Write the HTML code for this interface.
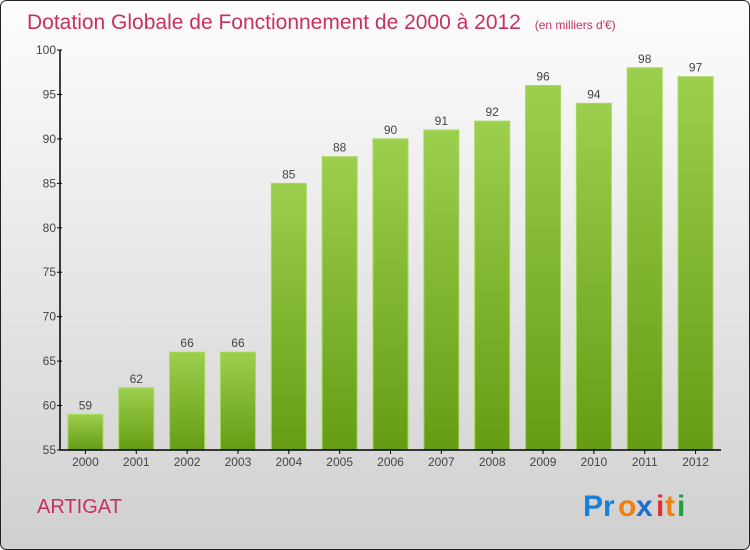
<!DOCTYPE html>
<html><head><meta charset="utf-8"><style>
body{margin:0;}
svg{display:block;font-family:"Liberation Sans",sans-serif;}
</style></head><body>
<svg width="750" height="550" viewBox="0 0 750 550">
<defs>
<linearGradient id="bg" x1="0" y1="0" x2="0" y2="1"><stop offset="0" stop-color="#fdfdfd"/><stop offset="1" stop-color="#d0d0d0"/></linearGradient>
<linearGradient id="bar" x1="0" y1="0" x2="0" y2="1"><stop offset="0" stop-color="#9ccf4d"/><stop offset="1" stop-color="#669c14"/></linearGradient>
</defs>
<rect x="0.5" y="0.5" width="749" height="549" rx="6" fill="url(#bg)" stroke="#222"/>
<text x="27" y="29" font-size="21" fill="#c8305f">Dotation Globale de Fonctionnement de 2000 à 2012 <tspan font-size="12" dx="8">(en milliers d'€)</tspan></text>
<g id="plot"></g>
<text x="37" y="513" font-size="20" fill="#c8305f">ARTIGAT</text>
<g font-size="30" font-weight="bold" font-family="'Liberation Sans',sans-serif">
<text x="583" y="516" fill="#1a7fd6">Pr</text><text x="618" y="516" fill="#f08010">o</text><text x="636" y="516" fill="#1a6fd0">x</text><text x="656" y="516" fill="#e03030">i</text><text x="665" y="516" fill="#f08010">t</text><text x="677" y="516" fill="#20a040">i</text>
</g>
<script>
const categories=["2000","2001","2002","2003","2004","2005","2006","2007","2008","2009","2010","2011","2012"];
const values=[59,62,66,66,85,88,90,91,92,96,94,98,97];
const ticks=[55,60,65,70,75,80,85,90,95,100];
const NS="http://www.w3.org/2000/svg";
const g=document.getElementById("plot");
const x0=60,x1=721,yTop=50,yBot=450,vMin=55,vMax=100;
const y=v=>yBot-(v-vMin)/(vMax-vMin)*(yBot-yTop);
const slot=(x1-x0)/categories.length;
const xc=i=>x0+slot*(i+0.5);
function mk(t,a){const e=document.createElementNS(NS,t);for(const k in a)e.setAttribute(k,a[k]);g.appendChild(e);return e;}
values.forEach((v,i)=>{
 const r=mk("rect",{x:xc(i)-17.5,y:y(v),width:35,height:yBot-y(v),fill:"url(#bar)",stroke:"#a8d860","stroke-width":1});
 
 
 const t=mk("text",{x:xc(i),y:y(v)-5,"text-anchor":"middle","font-size":12,fill:"#444"});t.textContent=v;
 
 
 const c=mk("text",{x:xc(i),y:466,"text-anchor":"middle","font-size":12,fill:"#444"});c.textContent=categories[i];
 
 
 mk("line",{x1:xc(i),x2:xc(i),y1:yBot,y2:yBot+4,stroke:"#000"});
});
ticks.forEach(v=>{
 mk("line",{x1:x0-3,x2:x0+2,y1:y(v),y2:y(v),stroke:"#000"});
 const t=mk("text",{x:x0-4,y:y(v)+4,"text-anchor":"end","font-size":12,fill:"#444"});t.textContent=v;
 
 
});
const ya=mk("line",{x1:x0,x2:x0,y1:yTop,y2:yBot,stroke:"#000","stroke-width":1.5});


const xa=mk("line",{x1:x0,x2:x1,y1:yBot,y2:yBot,stroke:"#000","stroke-width":1.5});


</script>
</svg>
</body></html>
